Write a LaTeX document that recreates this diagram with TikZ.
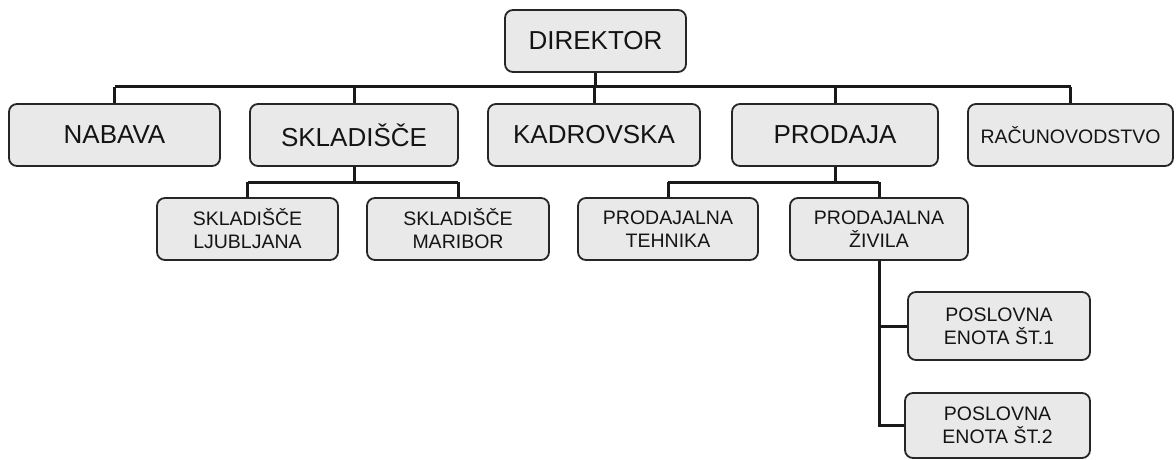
\documentclass[tikz,border=0pt]{standalone}
\usepackage{fontspec}
\setmainfont{Liberation Sans}
\begin{document}
\begin{tikzpicture}[x=1pt,y=-1pt,
  box/.style={draw=black!85, line width=1.8pt, rounded corners=8pt, fill=gray!17,
    inner sep=0pt, align=center, text=black!92, minimum height=62pt},
  big/.style={box, font=\fontsize{26}{30}\selectfont},
  small/.style={box, font=\fontsize{19.5}{23}\selectfont},
  conn/.style={draw=black!90, line width=3pt}]
\useasboundingbox (0,0) rectangle (1176,460);
\coordinate (busA) at (0,87);
\coordinate (busB) at (0,182);
\node[big, minimum width=181pt] (dir) at (595.5,41) {DIREKTOR};
\node[big, minimum width=211pt] (nab) at (114.5,135) {NABAVA};
\node[big, minimum width=208pt] (skl) at (354,135) {SKLADIŠČE};
\node[big, minimum width=212pt] (kad) at (594,135) {KADROVSKA};
\node[big, minimum width=206pt] (pro) at (835,135) {PRODAJA};
\node[small, minimum width=205pt] (rac) at (1070.5,135) {RAČUNOVODSTVO};
\node[small, minimum width=181pt] (sl) at (247.5,229) {SKLADIŠČE\\LJUBLJANA};
\node[small, minimum width=182pt] (sm) at (458,229) {SKLADIŠČE\\MARIBOR};
\node[small, minimum width=180pt] (pt) at (668,229) {PRODAJALNA\\TEHNIKA};
\node[small, minimum width=178pt] (pz) at (879,229) {PRODAJALNA\\ŽIVILA};
\node[small, minimum width=182pt, minimum height=68pt] (pe1) at (999,326) {POSLOVNA\\ENOTA ŠT.1};
\node[small, minimum width=185pt, minimum height=65pt] (pe2) at (997.5,425.5) {POSLOVNA\\ENOTA ŠT.2};
\draw[conn] (dir.south) -- (dir.south |- busA);
\draw[conn] (nab.north |- busA) -- (rac.north |- busA);
\foreach \n in {nab,skl,kad,pro,rac} \draw[conn] (\n.north) -- (\n.north |- busA);
\draw[conn] (skl.south) -- (skl.south |- busB);
\draw[conn] (sl.north |- busB) -- (sm.north |- busB);
\draw[conn] (sl.north) -- (sl.north |- busB);
\draw[conn] (sm.north) -- (sm.north |- busB);
\draw[conn] (pro.south) -- (pro.south |- busB);
\draw[conn] (pt.north |- busB) -- (pz.north |- busB);
\draw[conn] (pt.north) -- (pt.north |- busB);
\draw[conn] (pz.north) -- (pz.north |- busB);
\draw[conn] (pz.south) -- (pz.south |- pe2.west) -- (pe2.west);
\draw[conn] (pz.south |- pe1.west) -- (pe1.west);
\end{tikzpicture}
\end{document}
